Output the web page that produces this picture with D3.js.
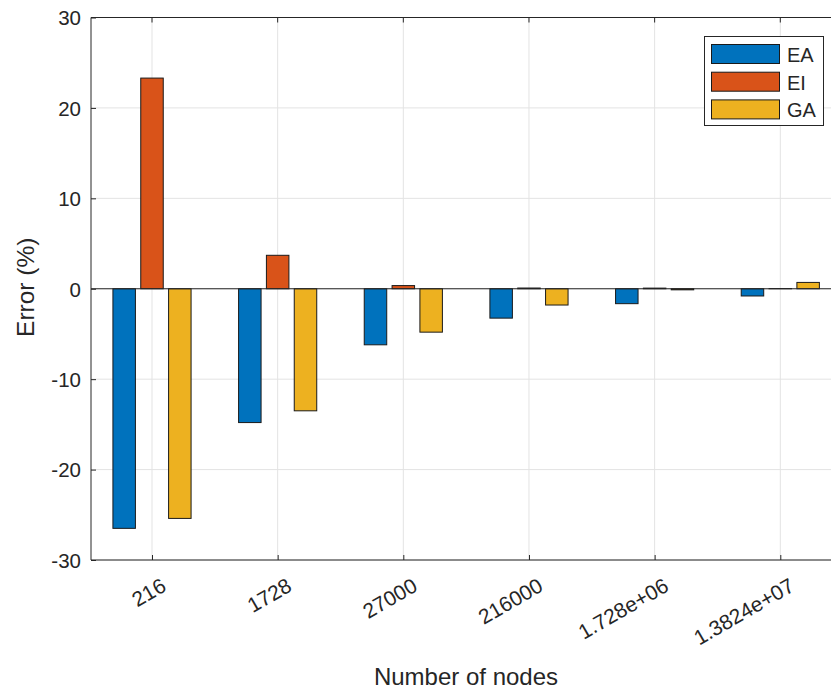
<!DOCTYPE html>
<html><head><meta charset="utf-8">
<script src="https://cdn.jsdelivr.net/npm/d3@7"></script>
<style>body{margin:0;background:#fff}svg{display:block}text{font-family:"Liberation Sans",Arial,sans-serif;fill:#262626}</style>
</head><body><svg id="c" width="831" height="689"></svg>
<script>
const categories = ["216","1728","27000","216000","1.728e+06","1.3824e+07"];
const seriesNames = ["EA","EI","GA"];
const EA = [-26.5,-14.8,-6.2,-3.25,-1.65,-0.8];
const EI = [23.3,3.7,0.35,0.08,0.07,0.02];
const GA = [-25.4,-13.5,-4.8,-1.8,-0.12,0.7];
const yTicks = [-30,-20,-10,0,10,20,30];
const colors = ["#0072BD","#D95319","#EDB120"];
const series = [EA,EI,GA];

const svg = d3.select("#c");
const L=91, T=17.5, B=560, R=844;
const x = d3.scaleLinear().domain([1,6]).range([152,780.3]);
const y = d3.scaleLinear().domain([-30,30]).range([B,T]);
const unit = x(2)-x(1);
const offs=[-0.2215,0,0.2215], bw=0.179;

// grid
const g = svg.append("g");
g.selectAll(".gy").data(yTicks).join("line")
 .attr("x1",L).attr("x2",R).attr("y1",d=>y(d)).attr("y2",d=>y(d))
 .attr("stroke","#e3e3e3").attr("stroke-width",1);
g.selectAll(".gx").data(categories).join("line")
 .attr("x1",(d,i)=>x(i+1)).attr("x2",(d,i)=>x(i+1)).attr("y1",T).attr("y2",B)
 .attr("stroke","#e3e3e3").attr("stroke-width",1);

// bars
series.forEach((s,k)=>{
  svg.append("g").selectAll("rect").data(s).join("rect")
   .attr("x",(d,i)=>x(i+1)+offs[k]*unit-bw*unit/2)
   .attr("width",bw*unit)
   .attr("y",d=>Math.min(y(d),y(0)))
   .attr("height",d=>Math.abs(y(d)-y(0)))
   .attr("fill",colors[k]).attr("stroke","#1a1a1a").attr("stroke-width",1);
});
// baseline
svg.append("line").attr("x1",L).attr("x2",R).attr("y1",y(0)).attr("y2",y(0)).attr("stroke","#262626").attr("stroke-width",1);

// axes
const ya = svg.append("g").attr("transform",`translate(${L},0)`)
 .call(d3.axisLeft(y).tickValues(yTicks).tickSize(-5).tickPadding(10).tickFormat(d=>String(d)));
ya.select(".domain").remove();
ya.selectAll("line").attr("stroke","#262626");
ya.selectAll("text").attr("font-size",20.5).attr("dy","0.36em").style("fill","#262626");

const xa = svg.append("g").attr("transform",`translate(0,${B})`)
 .call(d3.axisBottom(x).tickValues([1,2,3,4,5,6]).tickSize(-5).tickFormat((d,i)=>categories[i]));
xa.select(".domain").remove();
xa.selectAll("line").attr("stroke","#262626");
xa.selectAll("text").attr("font-size",21).attr("text-anchor","end")
 .attr("dy",0).attr("y",0)
 .attr("transform","translate(15,30) rotate(-30)").style("fill","#262626");
// top ticks
svg.append("g").selectAll("line").data(categories).join("line")
 .attr("x1",(d,i)=>x(i+1)).attr("x2",(d,i)=>x(i+1)).attr("y1",T).attr("y2",T+5).attr("stroke","#262626");

// box
svg.append("path").attr("d",`M${R},${T}H${L}V${B}H${R}`).attr("fill","none").attr("stroke","#262626").attr("stroke-width",1);

// labels
svg.append("text").attr("x",466).attr("y",685).attr("text-anchor","middle").attr("font-size",24).text("Number of nodes");
svg.append("text").attr("transform",`translate(33.5,${y(0)-1.5}) rotate(-90)`).attr("text-anchor","middle").attr("font-size",24.5).text("Error (%)");

// legend
const lg = svg.append("g");
lg.append("rect").attr("x",704.5).attr("y",36.5).attr("width",119).attr("height",89).attr("fill","#fff").attr("stroke","#262626").attr("stroke-width",1);
seriesNames.forEach((n,k)=>{
  lg.append("rect").attr("x",711.5).attr("y",44.5+k*27.7).attr("width",68).attr("height",19).attr("fill",colors[k]).attr("stroke","#1a1a1a");
  lg.append("text").attr("x",787).attr("y",62+k*27.7).attr("font-size",20).text(n);
});
</script></body></html>
